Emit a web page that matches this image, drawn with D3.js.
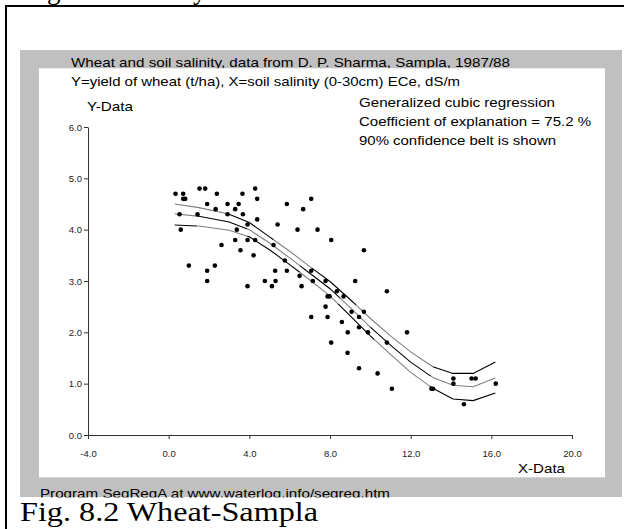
<!DOCTYPE html>
<html><head><meta charset="utf-8">
<script src="https://cdn.jsdelivr.net/npm/d3@7"></script>
<style>html,body{margin:0;padding:0;background:#fff;}svg{display:block;}</style>
</head><body>
<script>
// ---- data ----
const pointsX = [0.34,0.72,0.72,0.82,1.53,1.81,2.39,3.66,4.29,4.39,1.91,2.92,3.47,5.86,7.07,2.33,3.30,6.67,0.54,1.43,2.92,3.68,4.39,3.91,5.40,0.60,3.38,6.39,7.38,3.30,3.91,4.29,2.62,3.56,5.20,4.21,5.76,1.00,2.29,1.91,5.28,5.86,7.07,1.91,4.77,5.30,6.49,7.15,3.91,5.12,6.59,7.07,8.06,9.68,7.78,9.25,10.82,7.88,7.98,8.34,8.67,7.78,7.88,9.07,9.68,9.44,8.59,8.88,9.44,9.88,11.82,8.06,10.82,8.87,9.44,10.36,11.07,13.03,13.11,14.12,14.12,15.02,15.22,16.22,14.64];
const pointsY = [4.7,4.7,4.6,4.6,4.8,4.8,4.7,4.7,4.8,4.6,4.5,4.5,4.5,4.5,4.6,4.4,4.4,4.4,4.3,4.3,4.3,4.3,4.2,4.1,4.1,4.0,4.0,4.0,4.0,3.8,3.8,3.8,3.7,3.6,3.7,3.5,3.4,3.3,3.3,3.2,3.2,3.2,3.2,3.0,3.0,3.0,3.1,3.0,2.9,2.9,2.9,2.3,3.8,3.6,3.0,3.0,2.8,2.7,2.7,2.8,2.7,2.5,2.3,2.4,2.4,2.3,2.2,2.0,2.1,2.0,2.0,1.8,1.8,1.6,1.3,1.2,0.9,0.9,0.9,1.1,1.0,1.1,1.1,1.0,0.6];
const curveX = [0.3,1.5,3.0,4.0,5.0,6.0,7.0,8.0,9.0,10.0,11.0,12.0,13.1,14.1,15.1,16.2];
const fitY   = [4.31,4.26,4.15,4.00,3.74,3.45,3.15,2.85,2.48,2.10,1.75,1.42,1.12,0.97,0.94,1.11];
const upperY = [4.50,4.43,4.30,4.14,3.86,3.58,3.28,2.99,2.64,2.27,1.93,1.62,1.33,1.20,1.20,1.42];
const lowerY = [4.09,4.07,3.99,3.86,3.61,3.32,3.02,2.71,2.32,1.93,1.57,1.22,0.91,0.70,0.67,0.82];
const xTicks = [-4,0,4,8,12,16,20];
const yTicks = [0,1,2,3,4,5,6];
// colour-change positions along each curve (X), alternating starting colour
const upperBreaks = [0.3,2.9,5.2,7.1,9.3,13.1,16.2];
const fitBreaks   = [0.3,1.4,3.9,6.5,8.5,10.0,13.0,16.2];
const lowerBreaks = [0.3,1.4,3.9,6.5,8.4,10.2,12.95,16.2];

const W = 624, H = 529;
const svg = d3.select("body").append("svg").attr("width", W).attr("height", H)
  .style("font-family", "'Liberation Sans', Arial, sans-serif");

svg.append("rect").attr("x",0).attr("y",0).attr("width",W).attr("height",H).attr("fill","#fff");
const defs = svg.append("defs");
defs.append("clipPath").attr("id","topclip").append("rect").attr("x",0).attr("y",0).attr("width",W).attr("height",5);
defs.append("clipPath").attr("id","footclip").append("rect").attr("x",0).attr("y",470).attr("width",W).attr("height",27.5);

const serif = "'Liberation Serif', 'Times New Roman', serif";
const frag = svg.append("g").attr("clip-path","url(#topclip)").style("font-family", serif).style("font-size","27px");
frag.append("text").attr("x",47).attr("y",-1).text("g");
frag.append("text").attr("x",193).attr("y",-1).text("y");

svg.append("line").attr("x1",5).attr("x2",W).attr("y1",6).attr("y2",6).attr("stroke","#000").attr("stroke-width",2);
svg.append("line").attr("x1",6).attr("x2",6).attr("y1",5).attr("y2",H).attr("stroke","#000").attr("stroke-width",2);

// gray panel
svg.append("rect").attr("x",20).attr("y",50).attr("width",602).attr("height",447).attr("fill","#c0c0c0");

function txt(sel, x, y, s, size, len, anchor) {
  const t = sel.append("text").attr("x",x).attr("y",y).style("font-size",size+"px").attr("fill","#000").text(s);
  if (len) t.attr("textLength",len).attr("lengthAdjust","spacingAndGlyphs");
  if (anchor) t.attr("text-anchor",anchor);
  return t;
}
txt(svg, 71, 66.7, "Wheat and soil salinity, data from D. P. Sharma, Sampla, 1987/88", 13, 439);
// white plot panel
svg.append("rect").attr("x",39).attr("y",68.3).attr("width",566).attr("height",409).attr("fill","#fff");

txt(svg, 71, 85.5, "Y=yield of wheat (t/ha), X=soil salinity (0-30cm) ECe, dS/m", 13, 389);
txt(svg, 87, 111, "Y-Data", 13, 46);
txt(svg, 359, 107, "Generalized cubic regression", 13, 196);
txt(svg, 359, 126, "Coefficient of explanation = 75.2 %", 13, 232);
txt(svg, 359, 144.5, "90% confidence belt is shown", 13, 197);
txt(svg, 518, 472.5, "X-Data", 13, 47);
txt(svg.append("g").attr("clip-path","url(#footclip)"), 40, 497.5, "Program SegRegA at www.waterlog.info/segreg.htm", 13, 350);
txt(svg, 20, 520.5, "Fig. 8.2 Wheat-Sampla", 27, 298).style("font-family", serif);

// scales
const x = d3.scaleLinear().domain([-4,20]).range([88,572]);
const y = d3.scaleLinear().domain([0,6]).range([435,127]);

const fmt = d => d.toFixed(1);
const gx = svg.append("g").attr("transform","translate(0,435)")
  .call(d3.axisBottom(x).tickValues(xTicks).tickFormat(fmt).tickSize(4).tickSizeOuter(0).tickPadding(11));
const gy = svg.append("g").attr("transform","translate(88,0)")
  .call(d3.axisLeft(y).tickValues(yTicks).tickFormat(fmt).tickSize(4).tickSizeOuter(0).tickPadding(2));
[gx,gy].forEach(g => {
  g.select(".domain").attr("stroke","#333");
  g.selectAll(".tick line").attr("stroke","#333");
  g.selectAll(".tick text").attr("fill","#222").style("font-family","'Liberation Sans', Arial, sans-serif").style("font-size","9.5px");
});

// curves with alternating gray/black segments
function interp(xs, ys, v) {
  for (let i = 0; i < xs.length - 1; i++) {
    if (v >= xs[i] && v <= xs[i+1]) {
      const t = (v - xs[i]) / (xs[i+1] - xs[i]);
      return ys[i] + t * (ys[i+1] - ys[i]);
    }
  }
  return v < xs[0] ? ys[0] : ys[ys.length-1];
}
const line = d3.line().x(d => x(d[0])).y(d => y(d[1]));
function drawCurve(ys, breaks, firstGray) {
  for (let k = 0; k < breaks.length - 1; k++) {
    const a = breaks[k], b = breaks[k+1];
    const pts = [[a, interp(curveX, ys, a)]];
    curveX.forEach((cx, i) => { if (cx > a && cx < b) pts.push([cx, ys[i]]); });
    pts.push([b, interp(curveX, ys, b)]);
    const gray = (k % 2 === 0) === firstGray;
    svg.append("path").attr("d", line(pts)).attr("fill","none")
      .attr("stroke", gray ? "#808080" : "#000").attr("stroke-width", 1.1);
  }
}
drawCurve(upperY, upperBreaks, true);
drawCurve(fitY, fitBreaks, true);
drawCurve(lowerY, lowerBreaks, false);

// points
svg.append("g").selectAll("circle").data(pointsX.map((d,i)=>[d,pointsY[i]])).join("circle")
  .attr("cx", d => x(d[0])).attr("cy", d => y(d[1])).attr("r", 2.3).attr("fill","#000");
</script>
</body></html>
